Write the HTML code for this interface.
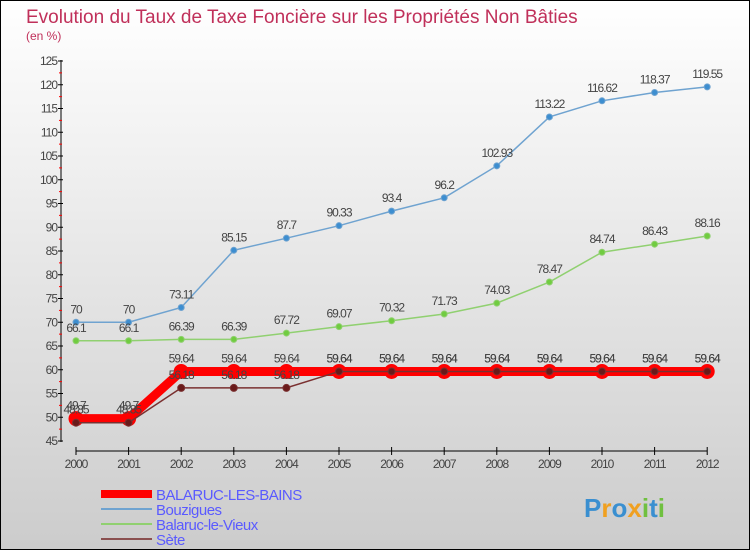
<!DOCTYPE html>
<html><head><meta charset="utf-8"><style>
body{margin:0;}
#c{width:750px;height:550px;position:relative;box-sizing:border-box;border:1px solid #000;background:linear-gradient(#fff,#ccc);font-family:"Liberation Sans",sans-serif;overflow:hidden}
</style></head><body>
<div id="c">
<svg id="s" width="748" height="548"></svg>
</div>
<script>
const years=["2000","2001","2002","2003","2004","2005","2006","2007","2008","2009","2010","2011","2012"];
const bains=[49.7,49.7,59.64,59.64,59.64,59.64,59.64,59.64,59.64,59.64,59.64,59.64,59.64];
const bouzigues=[70,70,73.11,85.15,87.7,90.33,93.4,96.2,102.93,113.22,116.62,118.37,119.55];
const vieux=[66.1,66.1,66.39,66.39,67.72,69.07,70.32,71.73,74.03,78.47,84.74,86.43,88.16];
const sete=[48.85,48.85,56.18,56.18,56.18,59.64,59.64,59.64,59.64,59.64,59.64,59.64,59.64];
const yTicks=[45,50,55,60,65,70,75,80,85,90,95,100,105,110,115,120,125];
const s=document.getElementById('s');const NS="http://www.w3.org/2000/svg";
function X(i){return 75+i*52.6;}
function Y(v){return 440-(v-45)*4.75;}
function el(t,a,p){const e=document.createElementNS(NS,t);for(const k in a)e.setAttribute(k,a[k]);(p||s).appendChild(e);return e;}
function txt(x,y,str,a,name){const e=el('text',Object.assign({x:x,y:y},a));e.textContent=str;return e;}
txt(25,22,"Evolution du Taux de Taxe Foncière sur les Propriétés Non Bâties",{'font-size':19,fill:'#c0305a'},'chart-title');
txt(25,39,"(en %)",{'font-size':12,fill:'#c0305a'},'y-unit-label');
let ax=el('line',{x1:60,y1:59,x2:60,y2:441,stroke:'#000'});
yTicks.forEach((v,i)=>{const t=el('line',{x1:57,y1:Y(v),x2:62,y2:Y(v),stroke:'#000'});
 if(i<yTicks.length-1){const m=el('line',{x1:58,y1:Y(v+2.5),x2:61,y2:Y(v+2.5),stroke:'#f00'});}
 txt(56,Y(v)+4,String(v),{'font-size':12,fill:'#444','text-anchor':'end','letter-spacing':'-1'},'y-tick-label');});
let xa=el('line',{x1:75,y1:450,x2:X(12),y2:450,stroke:'#000'});
years.forEach((y,i)=>{const t=el('line',{x1:X(i),y1:446,x2:X(i),y2:454,stroke:'#000'});
 txt(X(i),467,y,{'font-size':12,fill:'#444','text-anchor':'middle','letter-spacing':'-1'},'x-tick-label');});
function series(d,color,w,r,dot,name){
 const p=el('polyline',{points:d.map((v,i)=>X(i)+','+Y(v)).join(' '),fill:'none',stroke:color,'stroke-width':w});
 
 d.forEach((v,i)=>{const c=el('circle',{cx:X(i),cy:Y(v),r:r,fill:dot,stroke:color,'stroke-width':1});
  txt(X(i),Y(v)-9,String(v),{'font-size':12,fill:'#444','text-anchor':'middle','letter-spacing':'-1'},name+'-value-label');});
}
series(bouzigues,'#6fa3d0',1.5,3,'#3d8ed0','bouzigues');
series(vieux,'#90d070',1.5,3,'#70cc40','balaruc-le-vieux');
series(bains,'#f00',9,7,'#f00','balaruc-les-bains');
series(sete,'#7a3030',1.5,3.5,'#6a1a1a','sete');
const leg=[["BALARUC-LES-BAINS","#f00",8],["Bouzigues","#6fa3d0",2],["Balaruc-le-Vieux","#90d070",2],["Sète","#8a5050",2]];
leg.forEach((l,i)=>{const y=493+i*15;const ln=el('line',{x1:100,y1:y,x2:151,y2:y,stroke:l[1],'stroke-width':l[2]});
 txt(155,y+6,l[0],{'font-size':15,fill:'#5a5aff','letter-spacing':'-0.5'},'legend-entry');});
const lg=txt(583,516,"",{'font-size':26,'font-weight':'bold'},'proxiti-logo');
[["P","#3a8fd0"],["r","#f0a020"],["o","#3a8fd0"],["x","#f0a020"],["i","#70c040"],["t","#3a8fd0"],["i","#70c040"]].forEach(c=>{const t=el('tspan',{fill:c[1]},lg);t.textContent=c[0];});
</script>
</body></html>
